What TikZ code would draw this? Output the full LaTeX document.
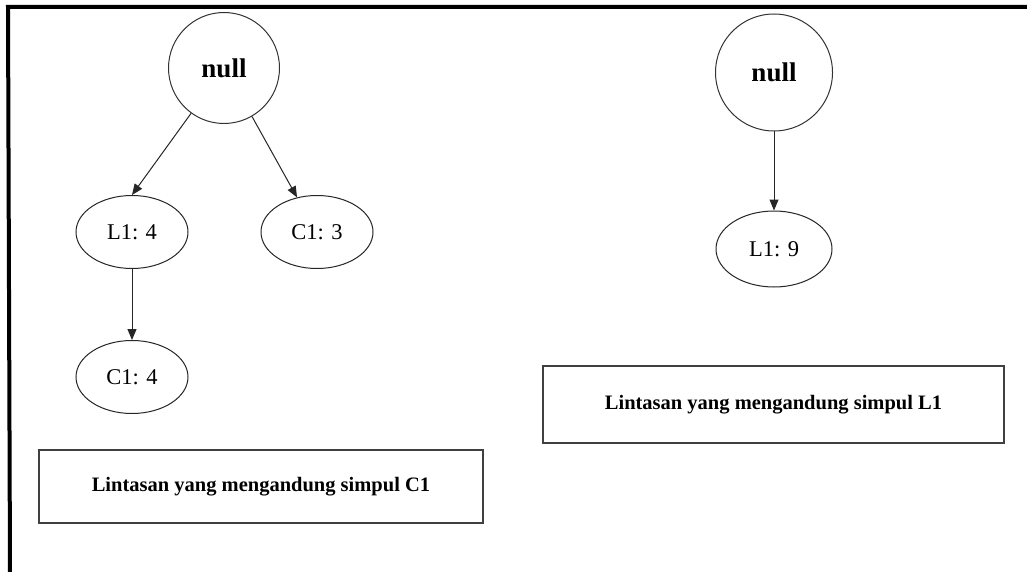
\documentclass[tikz,border=0pt]{standalone}
\usepackage{fontspec}
\setmainfont{Liberation Serif}
\usetikzlibrary{shapes.geometric,arrows.meta}
\begin{document}
\begin{tikzpicture}[x=1pt,y=-1pt,
  circ/.style={circle,draw=black!80,line width=1pt,minimum size=#1,inner sep=0pt,font=\fontsize{27}{27}\selectfont\bfseries},
  ell/.style={ellipse,draw=black!85,line width=1pt,minimum width=112pt,minimum height=73pt,inner sep=0pt,font=\fontsize{22.5}{22.5}\selectfont},
  lbox/.style={rectangle,draw=black!75,line width=1.3pt,inner sep=0pt,font=\fontsize{20.5}{20.5}\selectfont\bfseries},
  conn/.style={draw=black!85,line width=1pt,-{Triangle[length=11pt,width=9pt]}},
  frame/.style={line width=4pt,black}]
\useasboundingbox (0,0) rectangle (1027,572);
\fill[white] (0,0) rectangle (1027,572);
\coordinate (ftr) at (1027,7);
\coordinate (fbl) at (10,572);
\draw[frame] (ftr) -- (8,7) -- (fbl);
\node[circ=111pt] (nullL) at (224,68) {null};
\node[circ=117pt] (nullR) at (774,72.5) {null};
\node[ell] (L14) at (132,232) {L1: 4};
\node[ell] (C13) at (317,232) {C1: 3};
\node[ell] (C14) at (132,377) {C1: 4};
\node[ell,minimum width=116pt,minimum height=76pt] (L19) at (774,249) {L1: 9};
\node[lbox,minimum width=444pt,minimum height=73pt] (b1) at (261,486.5) {Lintasan yang mengandung simpul C1};
\node[lbox,minimum width=461pt,minimum height=77pt] (b2) at (773.5,404.5) {Lintasan yang mengandung simpul L1};
\draw[conn] (nullL.-126) -- (L14.north);
\draw[conn] (nullL.-60) -- (C13.120);
\draw[conn] (L14.south) -- (C14.north);
\draw[conn] (nullR.south) -- (L19.north);
\end{tikzpicture}
\end{document}
